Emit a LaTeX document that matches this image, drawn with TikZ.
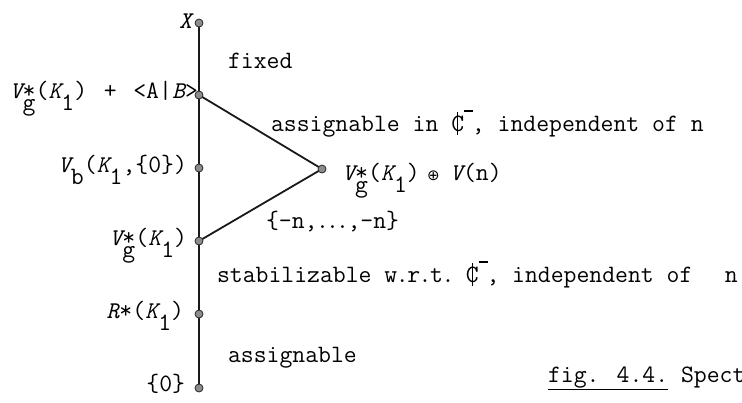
\documentclass[tikz,border=0pt]{standalone}
\usepackage{fontspec}
\usetikzlibrary{backgrounds}
\newfontfamily\dejavu{DejaVu Sans}
\newcommand{\tw}{\fontsize{25}{30}\selectfont\ttfamily}
\newcommand{\il}[1]{\makebox[0.525em]{\fontsize{24}{24}\selectfont\itshape #1}}
\newcommand{\lo}[1]{\raisebox{-0.5em}{#1}}
\newcommand{\stg}{\rlap{*}\lo{g}}
\newcommand{\Kone}{\il{K}\lo{1}}
\newcommand{\Cb}{\makebox[0.525em]{\ooalign{C\cr\hidewidth\rule[-0.15em]{0.05em}{0.9em}\hidewidth\cr}}}
\newcommand{\barc}{\rlap{\raisebox{0.76em}{\rule{0.34em}{0.08em}}}\hspace{0.3em},}
\newcommand{\opl}{\makebox[0.525em]{\fontsize{15}{15}\selectfont\dejavu ⊕}}
\newcommand{\pd}{\makebox[0.3em]{.}}
\newcommand{\pw}{\makebox[0.4em]{.}}
\begin{document}
\begin{tikzpicture}[x=1pt,y=-1pt,
  every node/.style={inner sep=0pt,outer sep=0pt,font=\tw},
  dot/.style={circle,fill=black!45,draw=black!85,line width=0.8pt,minimum size=8pt,inner sep=0pt},
  lbl/.style={anchor=base east},
  txt/.style={anchor=base west},
  edge/.style={line width=1.8pt,draw=black!90}]
\useasboundingbox (0,0) rectangle (742,402);
% points
\node[dot] (X)  at (199,23)  {};
\node[dot] (P1) at (199,95)  {};
\node[dot] (Vb) at (199,168) {};
\node[dot] (Vg) at (199,241) {};
\node[dot] (R)  at (199,314) {};
\node[dot] (Z)  at (199,388) {};
\node[dot] (A)  at (322,169) {};
\begin{scope}[on background layer]
\draw[edge] (X.center) -- (Z.center);
\draw[edge] (P1.center) -- (A.center) -- (Vg.center);
\end{scope}
% left labels
\node[lbl] (lX)  at (192,28)  {\il{X}};
\node[lbl] (lP1) at (198,98)  {\il{V}\stg(\Kone)\hspace{0.15em} + \hspace{0.15em}<A|\il{B}>};
\node[lbl] (lVb) at (187,172) {\il{V}\lo{b}(\Kone,\{0\})};
\node[lbl] (lVg) at (187,245) {\il{V}\stg(\Kone)};
\node[lbl] (lR)  at (184,318) {\il{R}*(\Kone)};
\node[lbl] (lZ)  at (185,391) {\{0\}};
% right texts
\node[txt] (tfix) at (228,68)  {fixed};
\node[txt] (tas1) at (271,131) {assignable in \Cb\barc\ independent of n};
\node[txt] (tA)   at (342,180) {\il{V}\stg(\Kone)\hspace{0.28em}\opl\hspace{0.4em}\il{V}(n)};
\node[txt] (tset) at (266,228) {\{-n,\pw\pw\pw,-n\}};
\node[txt] (tst)  at (217,282) {stabilizable w\pw r\pw t\pw\ \Cb\barc\ independent of\hspace{1.3em}n};
\node[txt] (tas2) at (228,362) {assignable};
\node[txt] (cap)  at (548,382) {\underline{fig. 4.4.} Spect};
\end{tikzpicture}
\end{document}
